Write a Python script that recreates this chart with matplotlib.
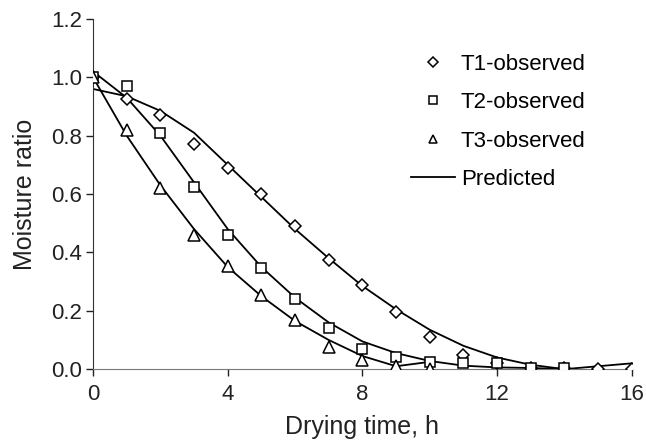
import numpy as np
import matplotlib
matplotlib.use("Agg")
import matplotlib.pyplot as plt
from matplotlib.lines import Line2D

plt.rcParams['font.family'] = ['Liberation Sans', 'DejaVu Sans']

# observed points
t1_x = [0, 1, 2, 3, 4, 5, 6, 7, 8, 9, 10, 11, 12, 13, 14, 15, 16]
t1_obs = [1.0, 0.925, 0.87, 0.77, 0.69, 0.60, 0.49, 0.375, 0.29, 0.195, 0.11, 0.05, 0.02, 0.005, 0.005, 0.0, 0.0]
t2_x = [0, 1, 2, 3, 4, 5, 6, 7, 8, 9, 10, 11, 12, 13, 14]
t2_obs = [1.0, 0.97, 0.81, 0.625, 0.46, 0.345, 0.24, 0.14, 0.07, 0.04, 0.025, 0.02, 0.02, 0.005, 0.005]
t3_x = [0, 1, 2, 3, 4, 5, 6, 7, 8, 9, 10]
t3_obs = [1.0, 0.82, 0.62, 0.46, 0.355, 0.255, 0.17, 0.075, 0.03, 0.01, 0.0]

# predicted curves
t1_pred = [0.96, 0.935, 0.885, 0.81, 0.70, 0.59, 0.48, 0.38, 0.285, 0.205, 0.135, 0.08, 0.04, 0.015, 0.0, 0.01, 0.02]
t2_pred = [1.02, 0.93, 0.80, 0.64, 0.48, 0.35, 0.245, 0.16, 0.095, 0.055, 0.028, 0.012, 0.006, 0.004, 0.0]
t3_pred = [1.0, 0.80, 0.63, 0.48, 0.35, 0.25, 0.165, 0.10, 0.045, 0.01, 0.025]

fig = plt.figure(figsize=(6.46, 4.40), dpi=100)
ax = fig.add_axes([0.144, 0.161, 0.834, 0.796])

lw = 1.3
ax.plot(t1_x, t1_pred, color='black', lw=lw, zorder=2)
ax.plot(t2_x, t2_pred, color='black', lw=lw, zorder=2)
ax.plot(t3_x, t3_pred, color='black', lw=lw, zorder=2)

ax.plot(t1_x, t1_obs, 'D', ms=6, mfc='white', mec='black', mew=1.1, ls='none', zorder=3)
ax.plot(t2_x, t2_obs, 's', ms=7, mfc='white', mec='black', mew=1.1, ls='none', zorder=3)
ax.plot(t3_x, t3_obs, '^', ms=8, mfc='white', mec='black', mew=1.1, ls='none', zorder=3)

ax.set_xlim(0, 16)
ax.set_ylim(0, 1.2)
ax.set_xticks([0, 4, 8, 12, 16])
ax.set_yticks([0.0, 0.2, 0.4, 0.6, 0.8, 1.0, 1.2])
ax.set_yticklabels(['0.0', '0.2', '0.4', '0.6', '0.8', '1.0', '1.2'])
for s in ['top', 'right']:
    ax.spines[s].set_visible(False)
ax.spines['left'].set_color('#333333')
ax.spines['bottom'].set_color('#777777')
ax.tick_params(direction='out', length=5, width=1, labelsize=16, colors='#222222', pad=3)
ax.tick_params(axis='x', pad=6)
ax.set_xlabel('Drying time, h', fontsize=18, color='#222222', labelpad=7)
ax.set_ylabel('Moisture ratio', fontsize=18, color='#222222', labelpad=10)

handles = [
    Line2D([], [], marker='D', ms=5, mfc='white', mec='black', mew=1.1, ls='none'),
    Line2D([], [], marker='s', ms=6, mfc='white', mec='black', mew=1.1, ls='none'),
    Line2D([], [], marker='^', ms=6, mfc='white', mec='black', mew=1.1, ls='none'),
    Line2D([], [], color='black', lw=lw),
]
labels = ['T1-observed', 'T2-observed', 'T3-observed', 'Predicted']
ax.legend(handles, labels, loc='upper left', bbox_to_anchor=(0.59, 0.90), frameon=False,
          fontsize=16, labelspacing=0.78, handlelength=2.0, handletextpad=0.25, borderpad=0,
          borderaxespad=0)

fig.savefig('out.png', dpi=100)
